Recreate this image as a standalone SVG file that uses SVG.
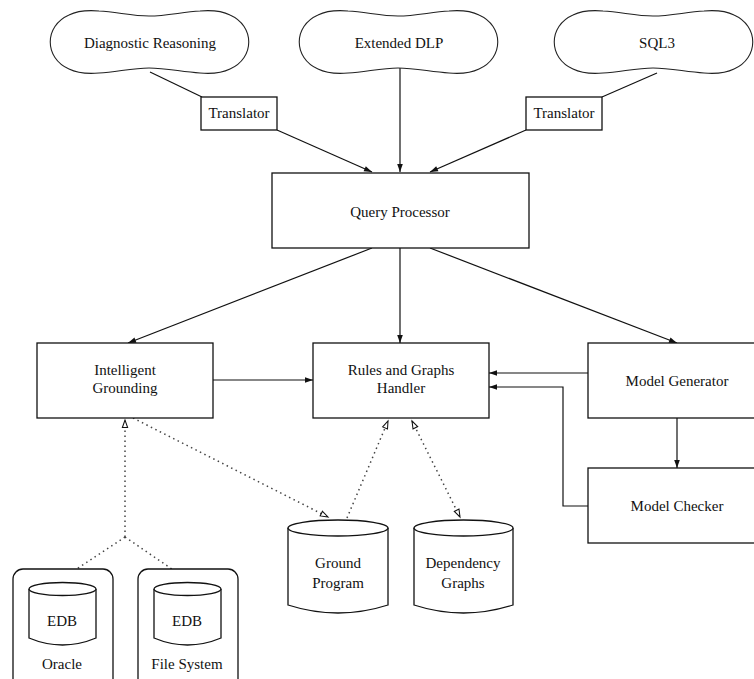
<svg xmlns="http://www.w3.org/2000/svg" xmlns:xlink="http://www.w3.org/1999/xlink" width="754" height="679" viewBox="0 0 754 679">
<style>
text{font-family:"Liberation Serif","Times New Roman",serif;font-size:15px;fill:#111;text-anchor:middle}
.box{fill:#fff;stroke:#111;stroke-width:1.3}
.cloud{fill:#fff;stroke:#222;stroke-width:1.1}
.ln{fill:none;stroke:#111;stroke-width:1.2}
.dot{fill:none;stroke:#444;stroke-width:1.5;stroke-dasharray:1.5 3.5}
</style>
<defs>
<marker id="ah" viewBox="0 0 10 10" refX="10" refY="5" markerWidth="11" markerHeight="8" markerUnits="userSpaceOnUse" orient="auto"><path d="M0,1.5 L10,5 L0,8.5 Z" fill="#111"/></marker>
<marker id="oh" viewBox="-1 -1 12 12" refX="10" refY="5" markerWidth="11" markerHeight="9" markerUnits="userSpaceOnUse" orient="auto-start-reverse"><path d="M0,1.5 L10,5 L0,8.5 Z" fill="#fff" stroke="#111" stroke-width="1.4"/></marker>
<path id="cloudshape" d="M22 7 C30 3,40 2,52 3 C70 4,85 8,102 8 C120 8,135 4,153 3 C165 2,175 3,183 7 C208 18,208 50,183 61 C175 65,165 66,153 65 C135 64,120 60,102 60 C85 60,70 64,52 65 C40 66,30 65,22 61 C-3 50,-3 18,22 7 Z"/>
</defs>

<g id="connectors">
<line class="ln" x1="150" y1="72" x2="202" y2="97"/>
<line class="ln" x1="277" y1="130" x2="372" y2="172" marker-end="url(#ah)"/>
<line class="ln" x1="400" y1="68" x2="400" y2="172" marker-end="url(#ah)"/>
<line class="ln" x1="657" y1="73" x2="602" y2="97"/>
<line class="ln" x1="526" y1="130" x2="430" y2="172" marker-end="url(#ah)"/>
<line class="ln" x1="372" y1="248" x2="128" y2="343" marker-end="url(#ah)"/>
<line class="ln" x1="400" y1="248" x2="400" y2="343" marker-end="url(#ah)"/>
<line class="ln" x1="430" y1="248" x2="677" y2="343" marker-end="url(#ah)"/>
<line class="ln" x1="213" y1="380" x2="313" y2="380" marker-end="url(#ah)"/>
<line class="ln" x1="588" y1="373" x2="489" y2="373" marker-end="url(#ah)"/>
<polyline class="ln" points="588,506 563,506 563,387 489,387" marker-end="url(#ah)"/>
<line class="ln" x1="677" y1="418" x2="677" y2="468" marker-end="url(#ah)"/>
<line class="dot" x1="133" y1="418" x2="328" y2="517" marker-end="url(#oh)"/>
<line class="dot" x1="125" y1="537" x2="125" y2="420" marker-end="url(#oh)"/>
<line class="dot" x1="125" y1="537" x2="63" y2="578"/>
<line class="dot" x1="125" y1="537" x2="185" y2="578"/>
<line class="dot" x1="347" y1="518" x2="388" y2="421" marker-end="url(#oh)"/>
<line class="dot" x1="412" y1="421" x2="460" y2="517" marker-start="url(#oh)" marker-end="url(#oh)"/>
</g>

<g id="diagnostic-reasoning">
<use xlink:href="#cloudshape" class="cloud" transform="translate(47,8)"/>
<text x="150" y="48">Diagnostic Reasoning</text>
</g>
<g id="extended-dlp">
<use xlink:href="#cloudshape" class="cloud" transform="translate(296,8)"/>
<text x="399" y="48">Extended DLP</text>
</g>
<g id="sql3">
<use xlink:href="#cloudshape" class="cloud" transform="translate(551,8)"/>
<text x="657" y="48">SQL3</text>
</g>

<g id="translator-left">
<rect class="box" x="201" y="97" width="76" height="33"/>
<text x="239" y="118">Translator</text>
</g>
<g id="translator-right">
<rect class="box" x="526" y="97" width="76" height="33"/>
<text x="564" y="118">Translator</text>
</g>

<g id="query-processor">
<rect class="box" x="272" y="173" width="257" height="75"/>
<text x="400" y="217">Query Processor</text>
</g>

<g id="intelligent-grounding">
<rect class="box" x="37" y="343" width="176" height="75"/>
<text x="125" y="375">Intelligent</text>
<text x="125" y="393">Grounding</text>
</g>

<g id="rules-graphs-handler">
<rect class="box" x="313" y="343" width="176" height="75"/>
<text x="401" y="375">Rules and Graphs</text>
<text x="401" y="393">Handler</text>
</g>

<g id="model-generator">
<rect class="box" x="588" y="343" width="170" height="75"/>
<text x="677" y="386">Model Generator</text>
</g>

<g id="model-checker">
<rect class="box" x="588" y="468" width="170" height="75"/>
<text x="677" y="511">Model Checker</text>
</g>

<g id="ground-program">
<path class="box" d="M288,528 L288,605 Q338,621 388,605 L388,528"/>
<ellipse class="box" cx="338" cy="528" rx="50" ry="8"/>
<text x="338" y="568">Ground</text>
<text x="338" y="588">Program</text>
</g>

<g id="dependency-graphs">
<path class="box" d="M414,528 L414,605 Q463.5,621 513,605 L513,528"/>
<ellipse class="box" cx="463.5" cy="528" rx="49.5" ry="8"/>
<text x="463" y="568">Dependency</text>
<text x="463" y="588">Graphs</text>
</g>

<g id="oracle">
<rect class="box" x="13" y="569" width="100" height="120" rx="10"/>
<path class="box" d="M29,589 L29,638 Q62.5,652 96,638 L96,589"/>
<ellipse class="box" cx="62.5" cy="589" rx="33.5" ry="6.5"/>
<text x="62" y="626">EDB</text>
<text x="62" y="669">Oracle</text>
</g>

<g id="file-system">
<rect class="box" x="138" y="569" width="100" height="120" rx="10"/>
<path class="box" d="M154,589 L154,638 Q187.5,652 221,638 L221,589"/>
<ellipse class="box" cx="187.5" cy="589" rx="33.5" ry="6.5"/>
<text x="187" y="626">EDB</text>
<text x="187" y="669">File System</text>
</g>
</svg>
